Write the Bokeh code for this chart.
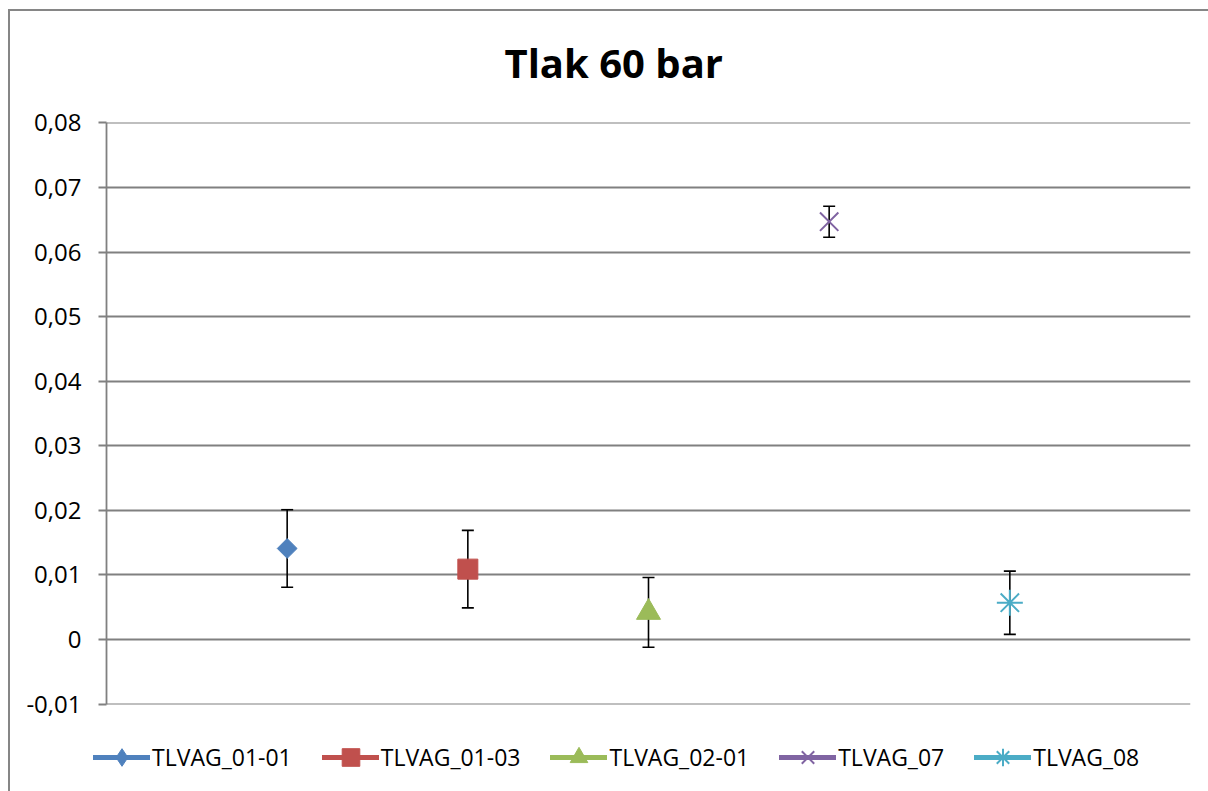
import math
from bokeh.plotting import figure
from bokeh.models import (ColumnDataSource, Whisker, TeeHead, Legend, LegendItem,
                          FixedTicker, CustomJSTickFormatter, Range1d)
from bokeh.embed import file_html
from bokeh.resources import INLINE

# ---- data ----
series_names = ["TLVAG_01-01", "TLVAG_01-03", "TLVAG_02-01", "TLVAG_07", "TLVAG_08"]
x_pos = [1, 2, 3, 4, 5]
means = [0.0141, 0.0109, 0.0042, 0.0647, 0.0057]
errors = [0.0060, 0.0060, 0.0054, 0.0024, 0.0049]
y_ticks = [-0.01, 0.0, 0.01, 0.02, 0.03, 0.04, 0.05, 0.06, 0.07, 0.08]
colors = ["#4F81BD", "#C0504D", "#9BBB59", "#8064A2", "#4BACC6"]
markers = ["square", "square", "triangle", "x", "asterisk"]
legend_markers = ["diamond", "square", "triangle", "x", "asterisk"]
marker_sizes = [14, 20, 24, 26, 26]
marker_angles = [math.pi / 4, 0, 0, 0, 0]
title_text = "Tlak 60 bar"

FONT = "Open Sans"
GRID = "#808080"
VLINE_TOP = "linear-gradient(#868686,#868686) 8px 9px / 2px 100% no-repeat"
HLINE_TOP = "linear-gradient(#868686,#868686) 8px 9px / 100% 2px no-repeat"
VLINE_FULL = "linear-gradient(#868686,#868686) 8px 0px / 2px 100% no-repeat"

p = figure(width=1208, height=735, output_backend="svg", toolbar_location=None,
           x_range=Range1d(0, 6), y_range=Range1d(-0.01006, 0.08006),
           x_axis_location=None,
           min_border_left=106, min_border_right=18, min_border_top=122,
           min_border_bottom=31)
p.styles = {"background": f"{VLINE_TOP}, {HLINE_TOP}, white"}

p.title.text = title_text
p.title.align = "left"
p.title.offset = 398
p.title.text_font = FONT
p.title.text_font_size = "40px"
p.title.text_font_style = "bold"
p.title.text_color = "black"
p.title.standoff = 65

p.outline_line_color = None
p.background_fill_color = "white"
p.border_fill_color = None

p.xgrid.visible = False

p.yaxis.ticker = FixedTicker(ticks=y_ticks)
p.yaxis.formatter = CustomJSTickFormatter(code="""
    if (Math.abs(tick) < 1e-9) { return "0"; }
    return tick.toFixed(2).replace('.', ',');
""")
p.yaxis.major_label_text_font = FONT
p.yaxis.major_label_text_font_size = "24px"
p.yaxis.major_label_text_color = "black"
p.yaxis.major_label_standoff = 17
p.yaxis.axis_line_color = GRID
p.yaxis.axis_line_width = 1.8
p.yaxis.major_tick_line_color = GRID
p.yaxis.major_tick_line_width = 1.8
p.yaxis.major_tick_out = 8
p.yaxis.major_tick_in = 0
p.yaxis.minor_tick_line_color = None

p.ygrid.ticker = FixedTicker(ticks=y_ticks)
p.ygrid.grid_line_color = GRID
p.ygrid.grid_line_width = 1.8

# error bars
err_src = ColumnDataSource(dict(
    x=x_pos,
    upper=[m + e for m, e in zip(means, errors)],
    lower=[m - e for m, e in zip(means, errors)],
))
wh = Whisker(base="x", upper="upper", lower="lower", source=err_src,
             line_color="black", line_width=1.6,
             upper_head=TeeHead(size=12, line_color="black", line_width=1.6),
             lower_head=TeeHead(size=12, line_color="black", line_width=1.6))
p.add_layout(wh)

# legend strip below the chart (its own canvas so the legend is not clipped)
lg = figure(width=1208, height=56, output_backend="svg", toolbar_location=None,
            x_range=Range1d(0, 6), y_range=Range1d(1, 2),
            x_axis_location=None, y_axis_location=None,
            min_border=0)
lg.styles = {"background": f"{VLINE_FULL}, white"}
lg.grid.visible = False
lg.outline_line_color = None
lg.background_fill_color = None
lg.border_fill_color = None

items = []
for name, xv, m, c, mk, lmk, ms, ang in zip(series_names, x_pos, means, colors,
                                             markers, legend_markers,
                                             marker_sizes, marker_angles):
    src = ColumnDataSource(dict(x=[xv], y=[m]))
    if mk in ("x", "asterisk"):
        p.scatter("x", "y", source=src, marker=mk, size=ms, angle=ang,
                  line_color=c, line_width=2, fill_color=None)
    else:
        p.scatter("x", "y", source=src, marker=mk, size=ms, angle=ang,
                  line_color=c, fill_color=c, line_width=1)
    # legend proxies: same point, outside the strip's visible range
    lr = lg.line("x", "y", source=src, line_color=c, line_width=5, line_cap="round")
    if lmk in ("x", "asterisk"):
        sr = lg.scatter("x", "y", source=src, marker=lmk,
                        line_color=c, line_width=2, fill_color=None)
    else:
        sr = lg.scatter("x", "y", source=src, marker=lmk,
                        line_color=c, fill_color=c, line_width=1)
    items.append(LegendItem(label=name, renderers=[lr, sr]))

legend = Legend(items=items, orientation="horizontal", location=(93, 12),
                glyph_width=57, glyph_height=44, label_standoff=2, spacing=30,
                padding=0, margin=0, border_line_color=None,
                background_fill_alpha=0,
                label_text_font=FONT, label_text_font_size="23px",
                label_text_color="black")
lg.add_layout(legend, "center")

open("out.html", "w").write(file_html([p, lg], INLINE))
